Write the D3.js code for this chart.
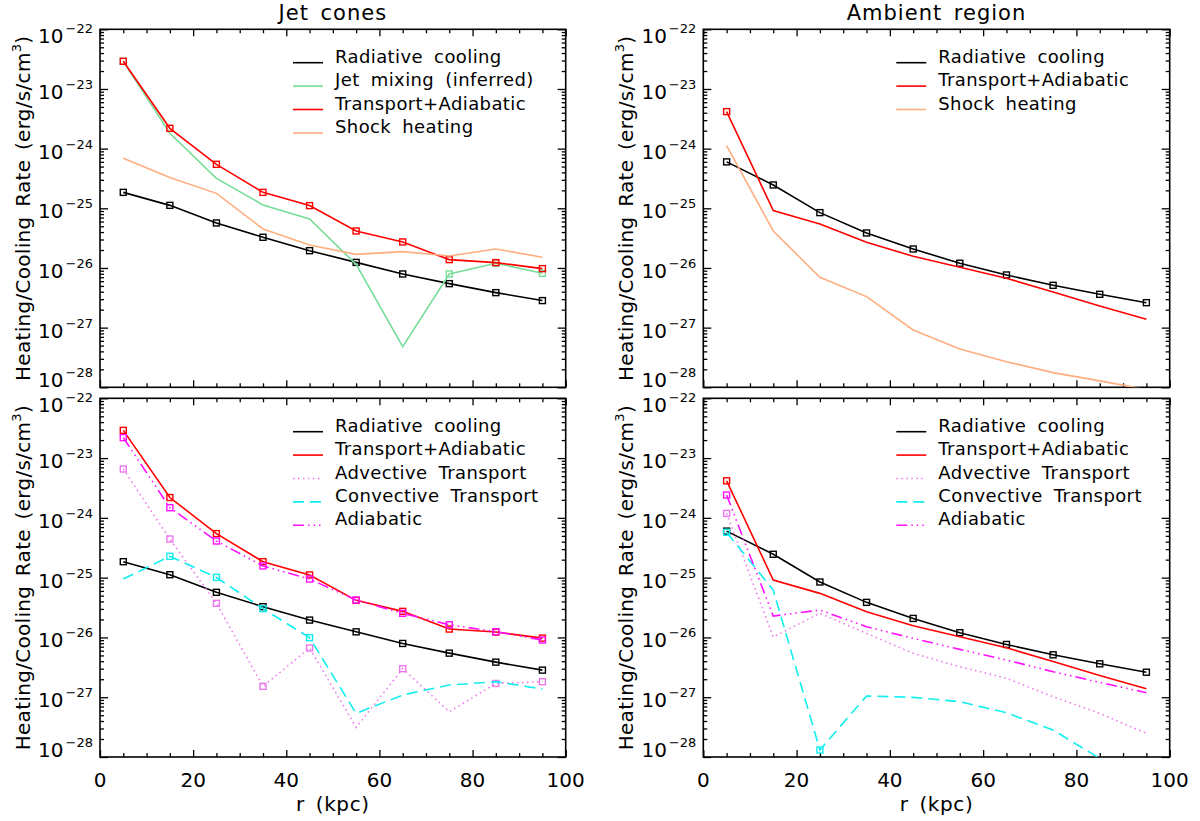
<!DOCTYPE html>
<html>
<head>
<meta charset="utf-8">
<script src="https://cdn.jsdelivr.net/npm/d3@7"></script>
<style>
  html, body { margin: 0; padding: 0; background: #fff; }
  svg text { font-family: "DejaVu Sans", sans-serif; fill: #000; }
</style>
</head>
<body>
<svg id="chart" width="1200" height="821"></svg>
<script>
// ---------------- DATA ----------------
const radii = [5, 15, 25, 35, 45, 55, 65, 75, 85, 95];
const xTickValues = [0, 20, 40, 60, 80, 100];
const xTickLabels = ["0", "20", "40", "60", "80", "100"];
const yTickExponents = [-22, -23, -24, -25, -26, -27, -28];
const panelTitles = ["Jet cones", "Ambient region"];
const xAxisTitle = "r (kpc)";
const yAxisTitle = "Heating/Cooling Rate (erg/s/cm";

// Jet cones
const jetRadiative = [1.85e-25, 1.12e-25, 5.68e-26, 3.27e-26, 1.95e-26, 1.24e-26, 7.93e-27, 5.46e-27, 3.86e-27, 2.84e-27];
const jetMixing = [2.9e-23, 1.81e-24, 3.18e-25, 1.14e-25, 6.62e-26, 1.15e-26, 4.8e-28, 7.93e-27, 1.2e-26, 8.14e-27];
const jetTransportAdiabatic = [2.91e-23, 2.19e-24, 5.46e-25, 1.85e-25, 1.11e-25, 4.17e-26, 2.73e-26, 1.38e-26, 1.23e-26, 9.75e-27];
const jetShock = [6.89e-25, 3.27e-25, 1.78e-25, 4.51e-26, 2.43e-26, 1.69e-26, 1.88e-26, 1.59e-26, 2.08e-26, 1.51e-26];
const jetAdvective = [6.57e-24, 4.43e-25, 3.72e-26, 1.52e-27, 6.65e-27, 3.13e-28, 3.0e-27, 5.72e-28, 1.70e-27, 1.82e-27];
const jetConvective = [9.48e-26, 2.27e-25, 1.01e-25, 3.03e-26, 9.9e-27, 5.37e-28, 1.09e-27, 1.6e-27, 1.82e-27, 1.37e-27];
const jetAdiabatic = [2.2e-23, 1.48e-24, 4.1e-25, 1.57e-25, 9.48e-26, 4.23e-26, 2.53e-26, 1.63e-26, 1.25e-26, 9.05e-27];

// Ambient region
const ambRadiative = [6.0e-25, 2.46e-25, 8.46e-26, 3.86e-26, 2.08e-26, 1.2e-26, 7.63e-27, 5.12e-27, 3.62e-27, 2.62e-27];
const ambTransportAdiabatic = [4.17e-24, 9.14e-26, 5.46e-26, 2.69e-26, 1.57e-26, 1.03e-26, 6.71e-27, 3.96e-27, 2.31e-27, 1.38e-27];
const ambShock = [1.12e-24, 4.17e-26, 6.98e-27, 3.31e-27, 9.14e-28, 4.39e-28, 2.69e-28, 1.76e-28, 1.28e-28, 9.2e-29];
const ambAdvective = [1.19e-24, 1.02e-26, 2.53e-26, 1.17e-26, 5.41e-27, 3.24e-27, 2.07e-27, 1.02e-27, 5.37e-28, 2.48e-28];
const ambConvective = [5.73e-25, 6.21e-26, 1.31e-28, 1.05e-27, 9.93e-28, 8.41e-28, 5.5e-28, 2.82e-28, 9.5e-29, 3.0e-29];
const ambAdiabatic = [2.41e-24, 2.28e-26, 2.87e-26, 1.51e-26, 9.64e-27, 6.31e-27, 4.19e-27, 2.67e-27, 1.77e-27, 1.19e-27];

// which points carry a square marker (1 = marked)
const allMarked = [1, 1, 1, 1, 1, 1, 1, 1, 1, 1];
const noneMarked = [0, 0, 0, 0, 0, 0, 0, 0, 0, 0];
const firstMarked = [1, 0, 0, 0, 0, 0, 0, 0, 0, 0];
const jetMixingMarked = [1, 0, 0, 0, 0, 0, 0, 1, 1, 1];
const jetAdvectiveMarked = [1, 1, 1, 1, 1, 0, 1, 0, 1, 1];
const jetConvectiveMarked = [0, 1, 1, 1, 1, 0, 0, 0, 0, 0];
const ambConvectiveMarked = [1, 0, 1, 0, 0, 0, 0, 0, 0, 0];

// ---------------- STYLES ----------------
const STY = {
  rad:   { color: "#000000", dash: null },
  mix:   { color: "#77dd99", dash: null },
  ta:    { color: "#ff0000", dash: null },
  shock: { color: "#ffae80", dash: null },
  adv:   { color: "#ee77ee", dash: "1.5,3.5" },
  conv:  { color: "#11eeee", dash: "11,6" },
  adia:  { color: "#ff11ff", dash: "11,4,1.5,4,1.5,4,1.5,4" }
};

const panels = [
  { x0: 100, x1: 565.7, y0: 29.3, y1: 387.3, title: panelTitles[0], xlab: false,
    series: [
      { name: "Radiative cooling", v: jetRadiative, m: allMarked, s: STY.rad },
      { name: "Jet mixing (inferred)", v: jetMixing, m: jetMixingMarked, s: STY.mix },
      { name: "Transport+Adiabatic", v: jetTransportAdiabatic, m: allMarked, s: STY.ta },
      { name: "Shock heating", v: jetShock, m: noneMarked, s: STY.shock }
    ] },
  { x0: 703.3, x1: 1169.7, y0: 29.3, y1: 387.3, title: panelTitles[1], xlab: false,
    series: [
      { name: "Radiative cooling", v: ambRadiative, m: allMarked, s: STY.rad },
      { name: "Transport+Adiabatic", v: ambTransportAdiabatic, m: firstMarked, s: STY.ta },
      { name: "Shock heating", v: ambShock, m: noneMarked, s: STY.shock }
    ] },
  { x0: 100, x1: 565.7, y0: 398.3, y1: 757, title: null, xlab: true,
    series: [
      { name: "Radiative cooling", v: jetRadiative, m: allMarked, s: STY.rad },
      { name: "Transport+Adiabatic", v: jetTransportAdiabatic, m: allMarked, s: STY.ta },
      { name: "Advective Transport", v: jetAdvective, m: jetAdvectiveMarked, s: STY.adv },
      { name: "Convective Transport", v: jetConvective, m: jetConvectiveMarked, s: STY.conv },
      { name: "Adiabatic", v: jetAdiabatic, m: allMarked, s: STY.adia }
    ] },
  { x0: 703.3, x1: 1169.7, y0: 398.3, y1: 757, title: null, xlab: true,
    series: [
      { name: "Radiative cooling", v: ambRadiative, m: allMarked, s: STY.rad },
      { name: "Transport+Adiabatic", v: ambTransportAdiabatic, m: firstMarked, s: STY.ta },
      { name: "Advective Transport", v: ambAdvective, m: firstMarked, s: STY.adv },
      { name: "Convective Transport", v: ambConvective, m: ambConvectiveMarked, s: STY.conv },
      { name: "Adiabatic", v: ambAdiabatic, m: firstMarked, s: STY.adia }
    ] }
];

// ---------------- DRAW ----------------
const svg = d3.select("#chart");
const minorX = d3.range(0, 101, 5).filter(d => d % 20 !== 0);
const minorY = [];
for (let e = -28; e < -22; e++) for (let k = 2; k <= 9; k++) minorY.push(k * Math.pow(10, e));
const majorY = yTickExponents.map(e => Math.pow(10, e));

panels.forEach((p, pi) => {
  const x = d3.scaleLinear().domain([0, 100]).range([p.x0, p.x1]);
  const y = d3.scaleLog().domain([1e-28, 1e-22]).range([p.y1, p.y0]);
  const g = svg.append("g");

  const clipId = "clip" + pi;
  svg.append("clipPath").attr("id", clipId).append("rect")
    .attr("x", p.x0).attr("y", p.y0).attr("width", p.x1 - p.x0).attr("height", p.y1 - p.y0);

  // axes (ticks inward)
  const styleAxis = sel => {
    sel.select(".domain").remove();
    sel.selectAll("line").attr("stroke", "#000").attr("stroke-width", 1.3);
    sel.selectAll("text").remove();
  };
  g.append("g").attr("transform", `translate(0,${p.y1})`)
    .call(d3.axisBottom(x).tickValues(xTickValues).tickSizeInner(-7).tickSizeOuter(0)).call(styleAxis);
  g.append("g").attr("transform", `translate(0,${p.y1})`)
    .call(d3.axisBottom(x).tickValues(minorX).tickSizeInner(-4).tickSizeOuter(0)).call(styleAxis);
  g.append("g").attr("transform", `translate(0,${p.y0})`)
    .call(d3.axisTop(x).tickValues(xTickValues).tickSizeInner(-7).tickSizeOuter(0)).call(styleAxis);
  g.append("g").attr("transform", `translate(0,${p.y0})`)
    .call(d3.axisTop(x).tickValues(minorX).tickSizeInner(-4).tickSizeOuter(0)).call(styleAxis);
  g.append("g").attr("transform", `translate(${p.x0},0)`)
    .call(d3.axisLeft(y).tickValues(majorY).tickSizeInner(-8).tickSizeOuter(0)).call(styleAxis);
  g.append("g").attr("transform", `translate(${p.x0},0)`)
    .call(d3.axisLeft(y).tickValues(minorY).tickSizeInner(-4).tickSizeOuter(0)).call(styleAxis);
  g.append("g").attr("transform", `translate(${p.x1},0)`)
    .call(d3.axisRight(y).tickValues(majorY).tickSizeInner(-8).tickSizeOuter(0)).call(styleAxis);
  g.append("g").attr("transform", `translate(${p.x1},0)`)
    .call(d3.axisRight(y).tickValues(minorY).tickSizeInner(-4).tickSizeOuter(0)).call(styleAxis);

  // frame
  g.append("rect").attr("x", p.x0).attr("y", p.y0).attr("width", p.x1 - p.x0).attr("height", p.y1 - p.y0)
    .attr("fill", "none").attr("stroke", "#000").attr("stroke-width", 1.6);

  // y tick labels 10^e
  yTickExponents.forEach(e => {
    const ty = y(Math.pow(10, e));
    let off = 10;
    if (e === -22) off = 14;
    if (e === -28) off = 0;
    const t = g.append("text").attr("x", p.x0 - 7).attr("y", ty + off)
      .attr("text-anchor", "end").attr("font-size", 20);
    t.append("tspan").text("10");
    t.append("tspan").attr("font-size", 13).attr("dy", -10).attr("dx", 2).text("\u2212" + Math.abs(e));
  });

  // x tick labels
  if (p.xlab) {
    xTickValues.forEach((v, i) => {
      g.append("text").attr("x", x(v)).attr("y", p.y1 + 30).attr("text-anchor", "middle")
        .attr("font-size", 20).text(xTickLabels[i]);
    });
    g.append("text").attr("x", (p.x0 + p.x1) / 2).attr("y", p.y1 + 54).attr("text-anchor", "middle")
      .attr("font-size", 20).attr("letter-spacing", 0.6).attr("word-spacing", 4).text(xAxisTitle);
  }

  // y axis title
  const yt = g.append("text")
    .attr("transform", `translate(${p.x0 - 70},${(p.y0 + p.y1) / 2}) rotate(-90)`)
    .attr("text-anchor", "middle").attr("font-size", 20).attr("letter-spacing", 0.3)
    .attr("word-spacing", 3);
  yt.append("tspan").text(yAxisTitle);
  yt.append("tspan").attr("font-size", 13).attr("dy", -9).text("3");
  yt.append("tspan").attr("dy", 9).text(")");

  // panel title
  if (p.title) {
    g.append("text").attr("x", (p.x0 + p.x1) / 2).attr("y", p.y0 - 9).attr("text-anchor", "middle")
      .attr("font-size", 21).attr("letter-spacing", 1).attr("word-spacing", 4).text(p.title);
  }

  // series
  const line = d3.line().x((d, i) => x(radii[i])).y(d => y(d));
  const dg = g.append("g").attr("clip-path", `url(#${clipId})`);
  p.series.forEach(s => {
    dg.append("path").datum(s.v).attr("d", line).attr("fill", "none")
      .attr("stroke", s.s.color).attr("stroke-width", 1.6)
      .attr("stroke-dasharray", s.s.dash);
    const pts = s.v.map((v, i) => ({ r: radii[i], v: v, m: s.m[i] })).filter(d => d.m);
    dg.selectAll(null).data(pts).enter().append("rect")
      .attr("x", d => x(d.r) - 3).attr("y", d => y(d.v) - 3)
      .attr("width", 6).attr("height", 6)
      .attr("fill", "none").attr("stroke", s.s.color).attr("stroke-width", 1.4);
  });

  // legend
  const lx = p.x0 + 193, tx = p.x0 + 235;
  p.series.forEach((s, i) => {
    const ly = p.y0 + 33.4 + i * 23.4;
    g.append("line").attr("x1", lx).attr("x2", lx + 30).attr("y1", ly).attr("y2", ly)
      .attr("stroke", s.s.color).attr("stroke-width", 1.6).attr("stroke-dasharray", s.s.dash);
    g.append("text").attr("x", tx).attr("y", ly).attr("font-size", 18).attr("letter-spacing", 0.4)
      .attr("word-spacing", 5).text(s.name);
  });
});
</script>
</body>
</html>
